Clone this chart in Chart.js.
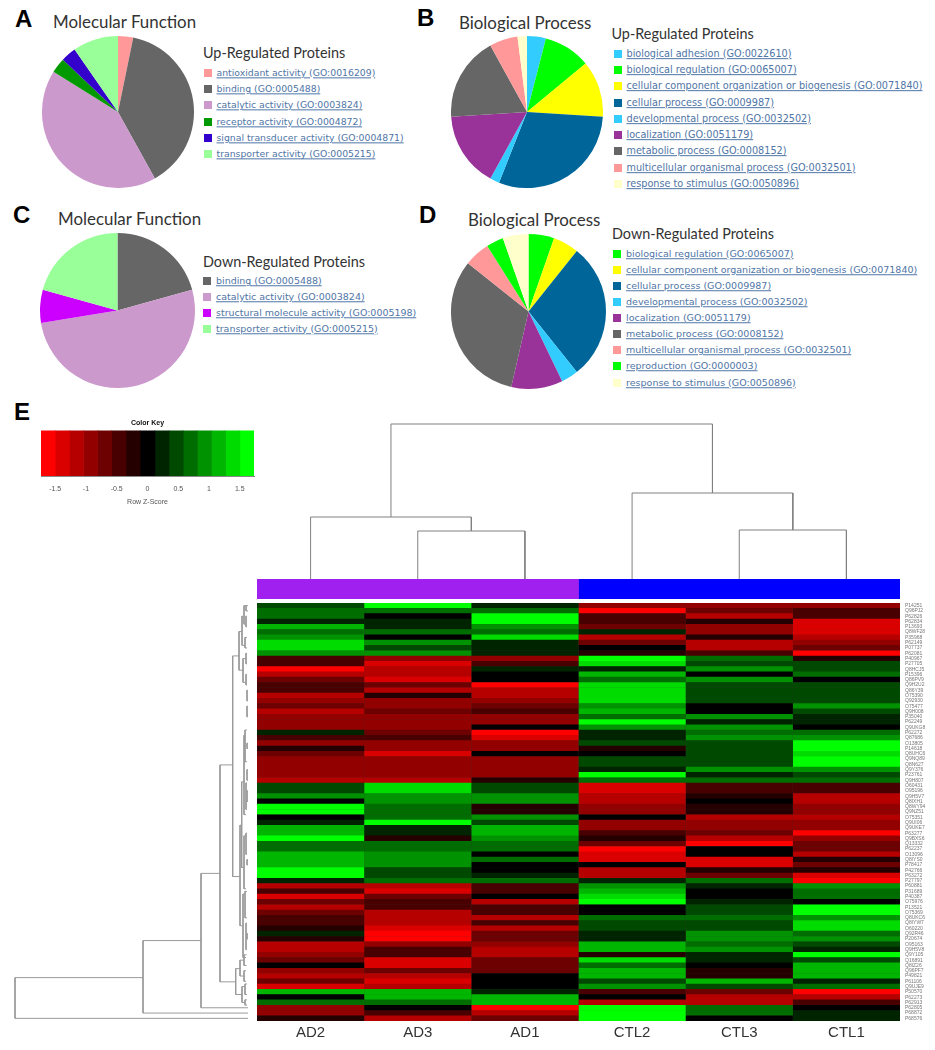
<!DOCTYPE html>
<html><head><meta charset="utf-8">
<script src="https://cdn.jsdelivr.net/npm/chart.js@4"></script>
<style>
html,body{margin:0;padding:0;background:#fff;}
#page{position:relative;width:935px;height:1050px;overflow:hidden;background:#fff;filter:blur(0.5px);}
canvas{position:absolute;display:block;}
.t{position:absolute;white-space:nowrap;line-height:1;transform:translateY(-50%);}
.letter{font:bold 24px "Liberation Sans",Arial,sans-serif;color:#000;}
.title{font:16.9px "Lato",sans-serif;color:#333;}
.sub{font:14.4px "Lato",sans-serif;color:#333;}
.lg{font-family:"DejaVu Sans",sans-serif;color:#4f75a6;text-decoration:underline;}
.sw{position:absolute;width:8px;height:8px;transform:translateY(-50%);}
</style></head><body><div id="page"></div>
<script>
// ---------- pie data (protein counts per GO term) ----------
const labelsA=["antioxidant activity (GO:0016209)","binding (GO:0005488)","catalytic activity (GO:0003824)","receptor activity (GO:0004872)","signal transducer activity (GO:0004871)","transporter activity (GO:0005215)"];
const valuesA=[1,12,13,1,1,3];
const colorsA=["#FF9999","#666666","#CC99CC","#009900","#3300CC","#99FF99"];
const labelsB=["biological adhesion (GO:0022610)","biological regulation (GO:0065007)","cellular component organization or biogenesis (GO:0071840)","cellular process (GO:0009987)","developmental process (GO:0032502)","localization (GO:0051179)","metabolic process (GO:0008152)","multicellular organismal process (GO:0032501)","response to stimulus (GO:0050896)"];
const valuesB=[2,5,6,15,1,8,9,3,1];
const colorsB=["#33CCFF","#00FF00","#FFFF00","#006699","#33CCFF","#993399","#666666","#FF9999","#FFFFCC"];
const labelsC=["binding (GO:0005488)","catalytic activity (GO:0003824)","structural molecule activity (GO:0005198)","transporter activity (GO:0005215)"];
const valuesC=[6,15,2,6];
const colorsC=["#666666","#CC99CC","#CC00FF","#99FF99"];
const labelsD=["biological regulation (GO:0065007)","cellular component organization or biogenesis (GO:0071840)","cellular process (GO:0009987)","developmental process (GO:0032502)","localization (GO:0051179)","metabolic process (GO:0008152)","multicellular organismal process (GO:0032501)","reproduction (GO:0000003)","response to stimulus (GO:0050896)"];
const valuesD=[3,3,16,2,6,18,3,2,3];
const colorsD=["#00FF00","#FFFF00","#006699","#33CCFF","#993399","#666666","#FF9999","#00FF00","#FFFFCC"];

// ---------- heatmap data (row z-score, in colour-key bins -7..7) ----------
const samples=["AD2","AD3","AD1","CTL2","CTL3","CTL1"];
const proteins=["P14251","Q96PJ2","P62826","P62834","P13693","Q8WF28","P35968","P62149","P07737","P62081",
"P40967","P27705","Q8HCJ5","P15396","Q86PV9","Q9H2U2","Q86Y39","O75390","Q92930","O75477",
"Q9H008","P35040","P62249","Q9UKG8","P62272","Q87686","O13805","P14618","Q8UHC6","Q9NQ89",
"Q8N627","Q9Y376","P23761","Q9H807","O60431","O95196","Q9H5V7","Q8IXH1","Q8WY94","Q9NZ51",
"O75351","Q9UI06","Q9UKE7","P63277","Q9BXS6","Q13332","P62237","O13096","Q8IYS0","P78417",
"P42766","P63272","P27797","P60881","P31689","P40387","O75976","P13521","O75369","Q8UKC6",
"Q8IYW7","O60220","Q92R46","P20674","O95163","Q9H5V8","Q9Y105","Q16891","Q8IZ26","Q96PF7",
"P49821","P61106","Q9UJE9","P50570","P62273","P62913","P62805","P68872","P68576"];
const zAD2=[2,3,3,1,5,3,4,6,6,4, -2,-2,-7,-5,-3,-2,-2,-5,-4,-3, -5,-4,-4,-4,1,-2,-4,-1,-3,-4, -4,-4,-4,-5,2,2,4,0,7,7, 0,1,5,5,7,3,3,5,5,5, 7,7,1,-5,-2,-6,-3,-5,-3,-2, -2,-1,1,-1,-5,-5,-4,-3,0,-4, -5,-3,-6,5,0,3,-4,-4,-1];
const zAD3=[7,3,0,1,1,3,0,4,2,4, -4,-6,-5,-5,-6,-3,-5,-1,-4,-4, -3,-4,-4,-4,-3,-2,-4,-4,-6,-4, -4,-4,-4,-5,6,6,4,4,3,3, 3,7,1,1,-1,3,3,4,4,4, 2,2,3,-5,-6,-3,-2,-2,-5,-5, -5,-6,-7,-7,-4,-2,-2,-6,-6,-3, -5,-6,-5,5,5,3,0,-2,-5];
const zAD1=[1,3,7,7,4,3,6,1,1,1, -4,-2,1,0,0,-7,-5,-5,-4,-3, -2,-4,-4,0,-7,-6,-4,-4,0,-4, -4,-4,-4,-1,2,2,4,4,-1,-1, 4,2,5,5,4,3,3,0,3,0, 0,1,3,-2,-2,0,-5,-2,-2,-5, -2,-5,-3,-3,-4,-5,-5,-3,-3,-3, 0,0,0,1,5,5,-7,-5,-3];
const zCTL2=[-4,-7,-2,-2,-3,1,-5,-3,0,-1, 7,6,1,5,3,6,6,6,6,4, 5,3,7,4,1,1,2,-1,0,2, 2,1,7,3,-6,-6,-5,-5,-4,-4, 0,-4,-4,-2,-1,-3,-7,-6,-6,0, -5,-5,1,4,5,6,7,0,0,3, 2,2,1,1,5,5,-1,6,3,5, 5,2,4,-2,0,-5,7,7,7];
const zCTL3=[-4,-3,-5,-1,-4,-4,-1,-5,-5,-2, 3,2,4,0,4,2,2,2,2,0, 0,4,1,4,3,4,2,2,2,2, 2,4,1,3,-2,-2,-1,0,-1,-1, -5,-4,-4,-3,-5,-7,0,0,-6,-6, -1,-3,3,1,0,0,1,2,2,3, 2,2,4,4,3,4,1,1,0,-1, -1,5,2,-3,-5,-5,3,3,0];
const zCTL1=[-4,-2,-2,-6,-6,-6,-5,-4,-3,-7, -1,2,2,3,0,2,2,2,2,4, 2,1,1,0,3,4,7,7,6,7, 7,4,2,3,-2,-2,-5,-5,-4,-4, -5,-4,-4,-7,-4,-3,-3,-5,-1,-3, -1,-6,-7,4,3,3,0,7,7,4, 6,6,3,4,2,1,7,2,5,5, 5,1,3,-7,-5,-2,0,1,1];
const zColumns=[zAD2,zAD3,zAD1,zCTL2,zCTL3,zCTL1];

// ---------- colour key ----------
const keyEdges=[-1.73,-1.5,-1.27,-1.04,-0.81,-0.58,-0.35,-0.12,0.12,0.35,0.58,0.81,1.04,1.27,1.5,1.73];
const keyColors=["#ff0000","#db0000","#b60000","#920000","#6d0000","#490000","#240000","#000000","#002400","#004900","#006d00","#009200","#00b600","#00db00","#00ff00"];
const keyTicks=[-1.5,-1,-0.5,0,0.5,1,1.5];

// ---------- group annotation bar ----------
const groupNames=["AD","CTL"];
const groupSizes=[3,3];
const groupColors=["#A020F0","#0000FF"];

// ---------- dendrograms: [merge height, first position, second position, first child height, second child height] ----------
const colMerges=[[48,1.5,2.5,0,0],[62,0.5,2,0,48],[49,4.5,5.5,0,0],[86,3.5,5,0,49],[155,1.25,4.25,62,86]];
const rowMerges=[
[233,70.8,78.5,105,0],[105,63.8,77.5,47,0],[47,51.1,76.5,28,0],[28,30.6,71.6,15.3,12.3],
[12.3,69.1,74,8,6],[8,67.5,70.5,4,4],[6,72.5,75.5,3,3],[4,66.5,68.5,1.5,1.5],[4,69.5,71.5,2,2],[3,72,74,1,1],[3,75,76,1,1],
[15.3,10,51.7,9,8],[9,5.4,12.7,6,5],[6,2.5,8,4,3],[4,0.5,4,2,2],[2,0.5,1.5,0,0],[2,2.5,4.5,1,1],[3,6.5,8.5,1,1],
[5,10.5,15,2,2],[2,9.5,11.5,1,1],[2,13.5,15.5,1,1],
[8,42,61,6.3,5],[6.3,33.8,50,4,4],[4,25,40,3,2],[3,24,30,1,1],[2,34,39,1,1],[1,26.5,27.5,0,0],[1,31.5,33.5,0,0],[1,35.5,37.5,0,0],
[4,44,54,2,2],[2,43.5,47.5,1,1],[1,48.5,49.5,0,0],[5,55,67,3,2],[3,54.5,59.5,1,1],[2,60.5,65.5,1,1],[1,62.5,63.5,0,0],
[1,16.5,18.5,0,0],[1,19.5,21.5,0,0]];

// ---------- layout ----------
const page=document.getElementById('page');
const pieLayout=[
 {labels:labelsA,values:valuesA,colors:colorsA,cx:118,cy:111.5,r:76,letter:"A",lx:15,ly:19,title:"Molecular Function",tx:53,ty:21,sub:"Up-Regulated Proteins",sx:203,sy:52,swx:204,txtx:216.5,y0:72.7,dy:16.35,fs:9.3},
 {labels:labelsB,values:valuesB,colors:colorsB,cx:526.7,cy:112,r:76,letter:"B",lx:417,ly:18,title:"Biological Process",tx:459,ty:22,sub:"Up-Regulated Proteins",sx:611.5,sy:33,swx:613.5,txtx:626.5,y0:53.7,dy:16.27,fs:9.68},
 {labels:labelsC,values:valuesC,colors:colorsC,cx:117,cy:310.7,r:77.3,letter:"C",lx:13,ly:215,title:"Molecular Function",tx:58,ty:217.7,sub:"Down-Regulated Proteins",sx:203,sy:261,swx:203.3,txtx:216,y0:281.3,dy:15.75,fs:9.47},
 {labels:labelsD,values:valuesD,colors:colorsD,cx:528.3,cy:311,r:77.3,letter:"D",lx:419,ly:215,title:"Biological Process",tx:468,ty:219,sub:"Down-Regulated Proteins",sx:612,sy:233,swx:613.3,txtx:626,y0:253.7,dy:16.1,fs:9.52}
];
function addText(cls,str,x,y){const d=document.createElement('div');d.className='t '+cls;d.textContent=str;d.style.left=x+'px';d.style.top=y+'px';page.appendChild(d);return d;}
function addCanvas(x,y,w,h){const c=document.createElement('canvas');c.width=w;c.height=h;c.style.left=x+'px';c.style.top=y+'px';c.style.width=w+'px';c.style.height=h+'px';page.appendChild(c);return c;}
Chart.defaults.animation=false;
Chart.defaults.responsive=false;
Chart.defaults.devicePixelRatio=1;
Chart.defaults.plugins.legend.display=false;
Chart.defaults.plugins.tooltip.enabled=false;

pieLayout.forEach(p=>{
  addText('letter',p.letter,p.lx,p.ly);
  addText('title',p.title,p.tx,p.ty);
  addText('sub',p.sub,p.sx,p.sy);
  p.labels.forEach((l,i)=>{
    const y=p.y0+i*p.dy;
    const s=document.createElement('div');s.className='sw';s.style.left=p.swx+'px';s.style.top=y+'px';s.style.background=p.colors[i];page.appendChild(s);
    addText('lg',l,p.txtx,y).style.fontSize=p.fs+'px';
  });
  const d=Math.round(p.r*2);
  new Chart(addCanvas(p.cx-d/2,p.cy-d/2,d,d),{type:'pie',data:{labels:p.labels,datasets:[{data:p.values,backgroundColor:p.colors,borderWidth:0}]},options:{layout:{padding:0}}});
});

addText('letter',"E",14,412);

// colour key
new Chart(addCanvas(21,414,253,92),{
  type:'bar',
  data:{labels:['key'],datasets:keyColors.map((c,i)=>({data:[[keyEdges[i],keyEdges[i+1]]],backgroundColor:c,borderWidth:0,barPercentage:1,categoryPercentage:1,grouped:false}))},
  options:{indexAxis:'y',layout:{padding:{left:20,right:20,top:0,bottom:0}},
    plugins:{title:{display:true,text:'Color Key',color:'#111',font:{family:'"Liberation Sans",Arial',size:7,weight:'bold'},padding:{top:5,bottom:3}}},
    scales:{y:{display:false},
      x:{min:-1.73,max:1.73,afterBuildTicks:s=>{s.ticks=keyTicks.map(v=>({value:v}));},
        afterFit:s=>{s.height=30;},
        grid:{display:false,drawTicks:true,tickLength:3,tickColor:'#666'},border:{display:true,color:'#888'},
        ticks:{color:'#555',padding:6,maxRotation:0,autoSkip:false,font:{family:'"Liberation Sans",Arial',size:7},callback:v=>String(v)},
        title:{display:true,text:'Row Z-Score',color:'#555',padding:{top:3,bottom:0},font:{family:'"Liberation Sans",Arial',size:7}}}}}
});

// helper: dendrogram polyline through a library scale
function mergePoints(merges,swap){
  const pts=[];
  merges.forEach(m=>{
    [[m[3],m[1]],[m[0],m[1]],[m[0],m[2]],[m[4],m[2]]].forEach(q=>pts.push(swap?{x:q[0],y:q[1]}:{x:q[1],y:q[0]}));
    pts.push({x:NaN,y:NaN});
  });
  return pts;
}
const lineOpts={showLine:true,pointRadius:0,borderWidth:1,spanGaps:false,tension:0};
// top dendrogram
new Chart(addCanvas(257,419,643,160),{type:'scatter',
  data:{datasets:[Object.assign({data:mergePoints(colMerges,false),borderColor:'#808080'},lineOpts)]},
  options:{layout:{padding:0},scales:{x:{display:false,min:0,max:6},y:{display:false,min:0,max:160}}}});
// left dendrogram
new Chart(addCanvas(14,603,234,418),{type:'scatter',
  data:{datasets:[Object.assign({data:mergePoints(rowMerges,true),borderColor:'#9a9a9a'},lineOpts)]},
  options:{layout:{padding:0},scales:{x:{display:false,min:0,max:234,reverse:true},y:{display:false,min:0,max:79,reverse:true}}}});

// group annotation bar
new Chart(addCanvas(257,579,643,20),{type:'bar',
  data:{labels:['group'],datasets:groupNames.map((n,i)=>({label:n,data:[groupSizes[i]],backgroundColor:groupColors[i],borderWidth:0,barPercentage:1,categoryPercentage:1,stack:'g'}))},
  options:{indexAxis:'y',layout:{padding:0},scales:{y:{display:false,stacked:true},x:{display:false,stacked:true,min:0,max:6}}}});

// heatmap
const rowBackdrop={id:'rowBackdrop',beforeDatasetsDraw(ch){const a=ch.chartArea,c=ch.ctx;c.save();c.fillStyle='#3a3a3a';c.fillRect(a.left,a.top,a.right-a.left,a.bottom-a.top);c.restore();}};
new Chart(addCanvas(257,603,678,445),{type:'bar',
  data:{labels:proteins,datasets:samples.map((s,i)=>({label:s,data:zColumns[i].map(()=>1),backgroundColor:zColumns[i].map(z=>keyColors[z+7]),borderWidth:0,barPercentage:1.08,categoryPercentage:1,stack:'h'}))},
  plugins:[rowBackdrop],
  options:{indexAxis:'y',layout:{padding:0},
    scales:{
      x:{display:false,stacked:true,min:0,max:6},
      sampleAxis:{type:'category',axis:'x',position:'bottom',labels:samples,offset:true,
        afterFit:s=>{s.height=27;s.paddingLeft=0;s.paddingRight=0;s.paddingTop=0;s.paddingBottom=0;},grid:{display:false,drawTicks:false,tickLength:0},border:{display:false},
        ticks:{color:'#333',padding:3,maxRotation:0,font:{family:'"Liberation Sans",Arial',size:15}}},
      y:{position:'right',stacked:true,afterFit:s=>{s.width=35;s.paddingTop=0;s.paddingBottom=0;},grid:{display:false,drawTicks:false,tickLength:0},border:{display:false},
        ticks:{autoSkip:false,color:'#777',padding:5,font:{family:'"Liberation Sans",Arial',size:5},maxRotation:0}}
    }}
});
</script></body></html>
